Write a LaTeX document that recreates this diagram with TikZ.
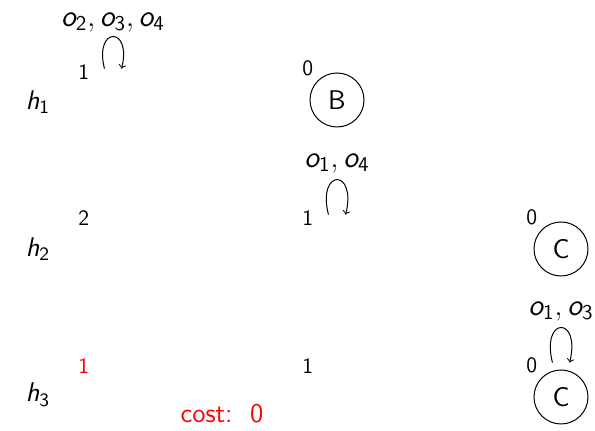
\documentclass[tikz,border=0pt]{standalone}
\usepackage{amsmath}
\newcommand\sv[2]{\textit{#1}_{\textsf{#2}}}
\begin{document}
\begin{tikzpicture}[x=0.5pt,y=-0.5pt,
  every node/.style={font=\sffamily\fontsize{13.5}{16}\selectfont},
  st/.style={circle, minimum size=27pt, inner sep=0pt},
  vis/.style={st, draw, line width=0.5pt},
  num/.style={font=\sffamily\fontsize{11}{13}\selectfont, inner sep=1pt, label distance=1.5pt},
  looplabel/.style={above, inner sep=4pt, font=\sffamily\fontsize{15}{18}\selectfont},
  self/.style={->, line width=0.5pt, out=104, in=76, distance=28pt, shorten <=4pt, shorten >=4pt}]
\useasboundingbox (0,0) rectangle (595,431);
% row 1
\node[st, label={[num]135:1}] (a11) at (113,103) {};
\node[vis, label={[num]135:0}] (a12) at (337,100) {B};
% row 2
\node[st, label={[num]135:2}] (a21) at (113,249) {};
\node[st, label={[num]135:1}] (a22) at (337,249) {};
\node[vis, label={[num]135:0}] (a23) at (561,249) {C};
% row 3
\node[st, label={[num,text=red]135:1}] (a31) at (113,397) {};
\node[st, label={[num]135:1}] (a32) at (337,397) {};
\node[vis, label={[num]135:0}] (a33) at (561,397) {C};
% loops
\path (a11) edge[self, distance=26pt] node[looplabel, inner sep=3pt] {$\sv{o}{2}, \sv{o}{3}, \sv{o}{4}$} (a11);
\path (a22) edge[self] node[looplabel] {$\sv{o}{1}, \sv{o}{4}$} (a22);
\path (a33) edge[self] node[looplabel] {$\sv{o}{1}, \sv{o}{3}$} (a33);
% row labels
\node (h1) at (38,102) {$\sv{h}{1}$};
\node (h2) at (38,249) {$\sv{h}{2}$};
\node (h3) at (38,395) {$\sv{h}{3}$};
\node[text=red] (cost) at (222,414) {cost:\ \ 0};
\end{tikzpicture}
\end{document}
